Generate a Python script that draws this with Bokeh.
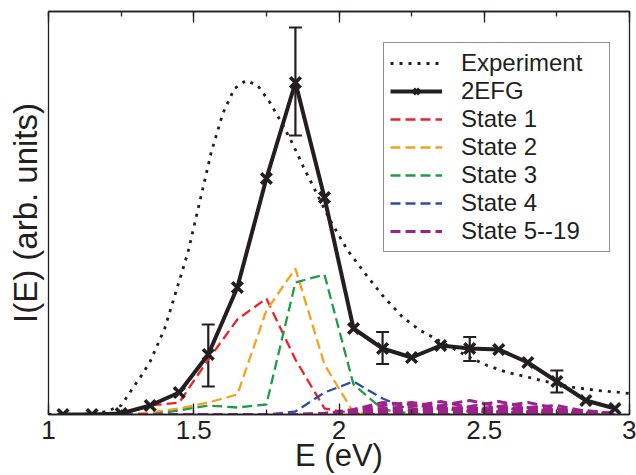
from bokeh.plotting import figure
from bokeh.models import (Range1d, LinearAxis, SingleIntervalTicker, FixedTicker, Legend,
                          LegendItem, Whisker, TeeHead, ColumnDataSource)
from bokeh.embed import file_html
from bokeh.resources import INLINE

# ---------------- data ----------------
energy = [1.05, 1.15, 1.25, 1.35, 1.45, 1.55, 1.65, 1.75, 1.85, 1.95,
          2.05, 2.15, 2.25, 2.35, 2.45, 2.55, 2.65, 2.75, 2.85, 2.95]
efg2 = [0.00, 0.00, 0.01, 0.09, 0.22, 0.60, 1.27, 2.36, 3.32, 2.17,
        0.86, 0.66, 0.57, 0.69, 0.66, 0.65, 0.52, 0.33, 0.14, 0.06]

err_energy = [1.55, 1.85, 2.15, 2.45, 2.75]
err_center = [0.59, 3.33, 0.665, 0.655, 0.33]
err_half = [0.31, 0.54, 0.16, 0.12, 0.11]

exp_energy = [1.00, 1.10, 1.15, 1.20, 1.25, 1.28, 1.32, 1.35, 1.40, 1.44,
              1.48, 1.52, 1.56, 1.60, 1.64, 1.68, 1.72, 1.76, 1.80, 1.84,
              1.88, 1.92, 1.97, 2.03, 2.09, 2.15, 2.22, 2.28, 2.35, 2.45,
              2.51, 2.58, 2.67, 2.74, 2.81, 2.89, 2.97, 3.00]
exp_intensity = [0.00, 0.00, 0.01, 0.03, 0.09, 0.22, 0.39, 0.53, 0.86, 1.24,
                 1.62, 2.12, 2.62, 3.01, 3.26, 3.34, 3.29, 3.13, 2.93, 2.71,
                 2.46, 2.23, 1.94, 1.64, 1.41, 1.19, 0.97, 0.84, 0.73, 0.57,
                 0.49, 0.42, 0.36, 0.31, 0.27, 0.24, 0.22, 0.21]

state1 = [0, 0, 0, 0.09, 0.12, 0.55, 0.95, 1.16, 0.55, 0.06,
          0.01, 0, 0, 0, 0, 0, 0, 0, 0, 0]
state2 = [0, 0, 0, 0.02, 0.06, 0.12, 0.20, 1.04, 1.46, 0.50,
          0.02, 0, 0, 0, 0, 0, 0, 0, 0, 0]
state3 = [0, 0, 0, 0, 0.04, 0.09, 0.07, 0.10, 1.32, 1.40,
          0.30, 0.05, 0.01, 0, 0, 0, 0, 0, 0, 0]
state4 = [0, 0, 0, 0, 0, 0, 0, 0, 0.03, 0.22,
          0.33, 0.16, 0.04, 0.01, 0, 0, 0, 0, 0, 0]

z9 = [0, 0, 0, 0, 0, 0, 0, 0, 0]
state5 = z9 + [0.01, 0.05, 0.12, 0.10, 0.06, 0.03, 0.02, 0.01, 0.00, 0.00, 0.00]
state6 = z9 + [0.01, 0.04, 0.09, 0.12, 0.08, 0.04, 0.02, 0.01, 0.00, 0.00, 0.00]
state7 = z9 + [0.00, 0.03, 0.06, 0.08, 0.13, 0.07, 0.03, 0.02, 0.01, 0.00, 0.00]
state8 = z9 + [0.00, 0.02, 0.04, 0.05, 0.09, 0.14, 0.08, 0.03, 0.01, 0.00, 0.00]
state9 = z9 + [0.01, 0.04, 0.05, 0.04, 0.05, 0.08, 0.13, 0.07, 0.02, 0.01, 0.00]
state10 = z9 + [0.00, 0.01, 0.03, 0.04, 0.06, 0.05, 0.08, 0.12, 0.06, 0.02, 0.01]
state11 = z9 + [0.00, 0.01, 0.02, 0.03, 0.05, 0.06, 0.06, 0.07, 0.09, 0.03, 0.01]
state12 = z9 + [0.00, 0.00, 0.01, 0.02, 0.04, 0.05, 0.07, 0.06, 0.05, 0.04, 0.01]
state13 = z9 + [0.00, 0.00, 0.01, 0.01, 0.03, 0.04, 0.05, 0.04, 0.04, 0.02, 0.01]
state14 = z9 + [0.00, 0.00, 0.01, 0.01, 0.02, 0.03, 0.04, 0.03, 0.02, 0.01, 0.01]
state15 = z9 + [0.00, 0.00, 0.00, 0.01, 0.02, 0.02, 0.03, 0.02, 0.02, 0.01, 0.01]
state16 = z9 + [0.00, 0.00, 0.00, 0.01, 0.02, 0.02, 0.02, 0.02, 0.01, 0.00, 0.00]
state17 = z9 + [0.00, 0.00, 0.00, 0.00, 0.01, 0.01, 0.01, 0.01, 0.00, 0.00, 0.00]
state18 = z9 + [0.00, 0.00, 0.00, 0.01, 0.01, 0.01, 0.00, 0.01, 0.00, 0.00, 0.00]
state19 = z9 + [0.00, 0.00, 0.00, 0.00, 0.01, 0.01, 0.00, 0.00, 0.00, 0.00, 0.00]
states_5_19 = [state5, state6, state7, state8, state9, state10, state11, state12,
               state13, state14, state15, state16, state17, state18, state19]

x_ticks = [1, 1.5, 2, 2.5, 3]
x_tick_labels = ["1", "1.5", "2", "2.5", "3"]
legend_labels = ["Experiment", "2EFG", "State 1", "State 2", "State 3", "State 4", "State 5--19"]
x_title = "E (eV)"
y_title = "I(E) (arb. units)"

# ---------------- style ----------------
FONT = "Liberation Sans"
INK = "#231f20"
C_RED, C_ORANGE, C_GREEN, C_BLUE, C_PURPLE = "#e8232b", "#f7a11d", "#1f9c48", "#2c4fa3", "#9b2389"

W, H = 636, 475
p = figure(width=W, height=H, output_backend="svg", toolbar_location=None,
           x_range=Range1d(1, 3), y_range=Range1d(0, 4.03),
           min_border_left=48, min_border_right=7, min_border_top=11, min_border_bottom=61)
p.grid.visible = False
p.outline_line_color = INK
p.outline_line_width = 1.3
p.background_fill_color = "white"
p.border_fill_color = "white"

ticker = SingleIntervalTicker(interval=0.5, num_minor_ticks=2)
xa = p.xaxis[0]
xa.ticker = ticker
xa.major_label_overrides = {t: s for t, s in zip(x_ticks, x_tick_labels)}
xa.major_label_text_font = FONT
xa.major_label_text_font_size = "26px"
xa.major_label_text_line_height = 1.0
xa.major_label_text_color = INK
xa.major_label_standoff = 6
xa.axis_line_color = INK
xa.axis_line_width = 1.3
xa.major_tick_in = 11
xa.major_tick_out = 0
xa.minor_tick_in = 5
xa.minor_tick_out = 0
xa.major_tick_line_color = INK
xa.minor_tick_line_color = INK
xa.major_tick_line_width = 1.3
xa.minor_tick_line_width = 1.3
xa.axis_label = x_title
xa.axis_label_text_font = FONT
xa.axis_label_text_font_size = "31px"
xa.axis_label_text_font_style = "normal"
xa.axis_label_text_color = INK
xa.axis_label_text_line_height = 1.0
xa.axis_label_standoff = -4

ya = p.yaxis[0]
ya.ticker = FixedTicker(ticks=[])
ya.axis_line_color = None
ya.major_tick_in = 0
ya.major_tick_out = 0
ya.minor_tick_in = 0
ya.minor_tick_out = 0
ya.axis_label = y_title
ya.axis_label_text_font = FONT
ya.axis_label_text_font_size = "33px"
ya.axis_label_text_font_style = "normal"
ya.axis_label_text_color = INK
ya.axis_label_text_line_height = 1.0
ya.axis_label_standoff = 5

top = LinearAxis(ticker=ticker, major_label_text_font_size="0px", major_label_text_color=None,
                 major_label_standoff=0,
                 axis_line_color=INK, axis_line_width=1.3,
                 major_tick_in=11, major_tick_out=0, minor_tick_in=5, minor_tick_out=0,
                 major_tick_line_color=INK, minor_tick_line_color=INK,
                 major_tick_line_width=1.3, minor_tick_line_width=1.3)
p.add_layout(top, "above")

# ---------------- glyphs ----------------
r_exp = p.line(exp_energy, exp_intensity, line_color=INK, line_width=2.8, line_dash="3 6")

dash = "10 5"
r_s1 = p.line(energy, state1, line_color=C_RED, line_width=2.3, line_dash=dash)
r_s2 = p.line(energy, state2, line_color=C_ORANGE, line_width=2.3, line_dash=dash)
r_s3 = p.line(energy, state3, line_color=C_GREEN, line_width=2.3, line_dash=dash)
r_s4 = p.line(energy, state4, line_color=C_BLUE, line_width=2.3, line_dash=dash)
r_s5 = None
for s in states_5_19:
    r = p.line(energy, s, line_color=C_PURPLE, line_width=2.9, line_dash=dash)
    if r_s5 is None:
        r_s5 = r

err_src = ColumnDataSource(dict(x=err_energy,
                                lo=[c - h for c, h in zip(err_center, err_half)],
                                hi=[c + h for c, h in zip(err_center, err_half)]))
wh = Whisker(base="x", lower="lo", upper="hi", source=err_src,
             line_color=INK, line_width=2.2,
             upper_head=TeeHead(size=13, line_color=INK, line_width=2.2),
             lower_head=TeeHead(size=13, line_color=INK, line_width=2.2))
p.add_layout(wh)

r_efg = p.line(energy, efg2, line_color=INK, line_width=4)
r_efg_m = p.scatter(energy, efg2, marker="x", size=15, line_color=INK, line_width=3.6)

# ---------------- legend ----------------
legend = Legend(items=[
    LegendItem(label=legend_labels[0], renderers=[r_exp]),
    LegendItem(label=legend_labels[1], renderers=[r_efg, r_efg_m]),
    LegendItem(label=legend_labels[2], renderers=[r_s1]),
    LegendItem(label=legend_labels[3], renderers=[r_s2]),
    LegendItem(label=legend_labels[4], renderers=[r_s3]),
    LegendItem(label=legend_labels[5], renderers=[r_s4]),
    LegendItem(label=legend_labels[6], renderers=[r_s5]),
], location=(335, 162), label_text_font=FONT, label_text_font_size="24px",
    label_text_color=INK, glyph_width=52, glyph_height=20, label_standoff=19,
    label_width=142, padding=6, spacing=0, margin=0,
    border_line_color=INK, border_line_width=1.2,
    background_fill_color="white", background_fill_alpha=1.0, label_height=24)
p.add_layout(legend)

open("out.html", "w").write(file_html(p, INLINE))
